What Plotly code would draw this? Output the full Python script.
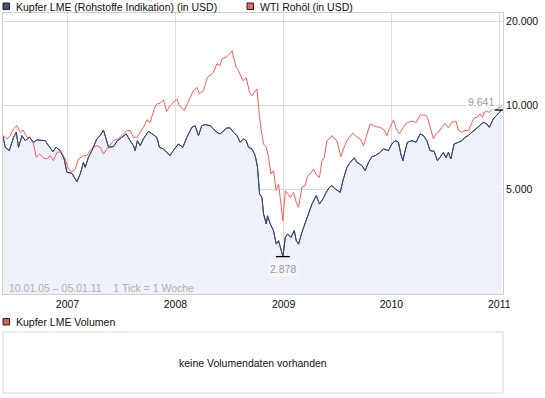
import numpy as np
import pandas as pd
import plotly.graph_objects as go

# ---------------- data (fractional years, values in USD) ----------------
copper_t = [2006.402, 2006.423, 2006.460, 2006.500, 2006.525, 2006.546, 2006.578, 2006.608, 2006.648, 2006.685,
            2006.717, 2006.794, 2006.824, 2006.865, 2006.895, 2006.932, 2006.969, 2006.994, 2007.041, 2007.062,
            2007.087, 2007.118, 2007.148, 2007.164, 2007.194, 2007.226, 2007.272, 2007.303, 2007.333, 2007.358,
            2007.380, 2007.426, 2007.457, 2007.504, 2007.544, 2007.581, 2007.611, 2007.627, 2007.648, 2007.673,
            2007.704, 2007.750, 2007.796, 2007.828, 2007.852, 2007.889, 2007.920, 2007.951, 2007.981, 2008.028,
            2008.069, 2008.106, 2008.152, 2008.182, 2008.213, 2008.244, 2008.275, 2008.321, 2008.352, 2008.383,
            2008.414, 2008.444, 2008.476, 2008.506, 2008.537, 2008.569, 2008.599, 2008.630, 2008.655, 2008.676,
            2008.707, 2008.738, 2008.759, 2008.778, 2008.800, 2008.815, 2008.840, 2008.852, 2008.877, 2008.907,
            2008.932, 2008.954, 2008.976, 2008.994, 2009.016, 2009.037, 2009.069, 2009.099, 2009.118, 2009.139,
            2009.170, 2009.201, 2009.231, 2009.263, 2009.303, 2009.333, 2009.365, 2009.395, 2009.426, 2009.448,
            2009.479, 2009.525, 2009.550, 2009.587, 2009.618, 2009.655, 2009.680, 2009.726, 2009.756, 2009.787,
            2009.819, 2009.849, 2009.895, 2009.926, 2009.972, 2010.004, 2010.034, 2010.065, 2010.087, 2010.106,
            2010.127, 2010.148, 2010.189, 2010.229, 2010.266, 2010.296, 2010.328, 2010.358, 2010.395, 2010.426,
            2010.451, 2010.481, 2010.506, 2010.528, 2010.550, 2010.581, 2010.620, 2010.652, 2010.682, 2010.713,
            2010.744, 2010.784, 2010.821, 2010.852, 2010.883, 2010.907, 2010.944, 2010.969, 2011.000, 2011.022]
copper_v = [7760, 7090, 6900, 7700, 8020, 7090, 7810, 7490, 7700, 7390,
            7535, 7490, 7190, 6840, 7090, 6900, 6440, 5770, 5720, 5530,
            5340, 5690, 6260, 6010, 6530, 6900, 7600, 7810, 8180, 7600,
            7090, 7130, 7450, 7700, 7920, 7490, 7190, 6900, 7490, 7190,
            7600, 8090, 7870, 7700, 7090, 7000, 6800, 6620, 6900, 7290,
            7090, 7700, 8360, 8480, 7810, 8480, 8550, 8480, 8250, 8020,
            7920, 8140, 8320, 8320, 8020, 7810, 7390, 7600, 7490, 7090,
            7000, 6620, 6010, 4830, 4690, 4090, 3770, 4030, 3770, 3565,
            3190, 3280, 3020, 2878, 3370, 3470, 3370, 3565, 3280, 3190,
            3515, 3820, 4090, 4440, 4760, 4440, 4630, 4890, 5100, 5170,
            5030, 4890, 5385, 6010, 6260, 6500, 6260, 6100, 5850, 6260,
            6565, 6620, 6800, 7000, 6900, 7290, 7490, 7390, 6710, 6350,
            6900, 7390, 7490, 7390, 7920, 7810, 7490, 6900, 6860, 6350,
            6530, 6800, 6500, 6800, 6440, 7290, 7390, 7490, 7700, 7810,
            8020, 8250, 8480, 8710, 8600, 8360, 8960, 9210, 9460, 9641]

oil_t = [2006.402, 2006.439, 2006.469, 2006.500, 2006.531, 2006.562, 2006.587, 2006.624, 2006.655, 2006.685,
         2006.710, 2006.741, 2006.778, 2006.809, 2006.840, 2006.870, 2006.902, 2006.939, 2006.979, 2007.009,
         2007.041, 2007.071, 2007.102, 2007.148, 2007.180, 2007.210, 2007.241, 2007.272, 2007.303, 2007.333,
         2007.365, 2007.426, 2007.472, 2007.519, 2007.550, 2007.581, 2007.611, 2007.643, 2007.673, 2007.704,
         2007.735, 2007.766, 2007.803, 2007.828, 2007.859, 2007.889, 2007.920, 2007.951, 2008.013, 2008.037,
         2008.081, 2008.120, 2008.167, 2008.198, 2008.222, 2008.259, 2008.296, 2008.337, 2008.352, 2008.383,
         2008.414, 2008.430, 2008.476, 2008.506, 2008.525, 2008.537, 2008.562, 2008.583, 2008.606, 2008.624,
         2008.655, 2008.685, 2008.707, 2008.738, 2008.754, 2008.769, 2008.791, 2008.815, 2008.840, 2008.861,
         2008.883, 2008.907, 2008.932, 2008.954, 2008.969, 2008.994, 2009.016, 2009.037, 2009.062, 2009.093,
         2009.118, 2009.139, 2009.170, 2009.201, 2009.222, 2009.247, 2009.278, 2009.309, 2009.333, 2009.356,
         2009.377, 2009.402, 2009.426, 2009.448, 2009.469, 2009.494, 2009.509, 2009.531, 2009.555, 2009.587,
         2009.611, 2009.643, 2009.680, 2009.710, 2009.741, 2009.772, 2009.803, 2009.849, 2009.895, 2009.932,
         2009.957, 2009.988, 2010.019, 2010.044, 2010.074, 2010.111, 2010.148, 2010.189, 2010.229, 2010.266,
         2010.312, 2010.333, 2010.358, 2010.389, 2010.414, 2010.435, 2010.467, 2010.497, 2010.528, 2010.559,
         2010.599, 2010.620, 2010.652, 2010.682, 2010.713, 2010.744, 2010.766, 2010.796, 2010.821, 2010.846,
         2010.858, 2010.883, 2010.907, 2010.939, 2010.969, 2011.000, 2011.022]
oil_v = [7810, 7600, 7810, 8250, 8480, 8020, 8180, 7700, 7700, 7290,
         6530, 6710, 6500, 6440, 6620, 6350, 6800, 6840, 6440, 5930,
         5770, 5930, 6440, 6620, 6620, 6900, 7090, 7190, 7090, 6710,
         7000, 7490, 7600, 7920, 8140, 8140, 7700, 7700, 8020, 8360,
         8890, 8710, 9730, 10140, 10190, 10480, 9540, 10000, 10570, 10000,
         9600, 10280, 11320, 11630, 11010, 11320, 12630, 12990, 13160, 14110,
         13910, 14700, 14980, 15400, 15740, 14900, 13720, 13350, 12630, 12290,
         12570, 11160, 10860, 11320, 11480, 9860, 8250, 7290, 7090, 6530,
         5690, 5850, 4960, 5240, 4690, 3870, 4960, 4830, 4690, 4890,
         4500, 4320, 5100, 5170, 5610, 5690, 5930, 5610, 5530, 6350,
         6530, 7490, 7600, 7810, 7600, 7490, 7090, 6565, 7000, 7490,
         7700, 7960, 7700, 7600, 7190, 7810, 8600, 8410, 8360, 8180,
         7810, 8360, 8890, 8250, 7920, 8360, 8710, 8790, 8710, 9260,
         9260, 9080, 8360, 7600, 7920, 8020, 8360, 8640, 8320, 8710,
         8790, 8180, 8020, 8140, 8140, 8600, 9035, 9080, 9340, 9080,
         9460, 9540, 9460, 9730, 9650, 9860, 9920]

year_ticks = [2007, 2008, 2009, 2010, 2011]
y_ticks = [5000, 10000, 20000]
x_span = [2006.402, 2011.034]
y_span = [2114, 21470]

legend_main = "Kupfer LME (Rohstoffe Indikation) (in USD)"
legend_oil = "WTI Rohöl (in USD)"
legend_vol = "Kupfer LME Volumen"
range_text = "10.01.05 \u2013 05.01.11\u00a0\u00a0\u00a0 1 Tick = 1 Woche"
no_volume = "keine Volumendaten vorhanden"


def to_dates(ts):
    out = []
    for t in ts:
        y = int(np.floor(t))
        frac = t - y
        s = pd.Timestamp(year=y, month=1, day=1)
        e = pd.Timestamp(year=y + 1, month=1, day=1)
        out.append(s + (e - s) * frac)
    return out


def de(v):
    return f"{v:,.0f}".replace(",", ".")


cd = to_dates(copper_t)
od = to_dates(oil_t)

FONT = "Liberation Sans, Arial, sans-serif"
W, H = 545, 398
ML, MR, MT, MB = 3, 42, 13, 4
PW, PH = W - ML - MR, H - MT - MB


def px(x):
    return (x - ML) / PW


def py(y):
    return (H - MB - y) / PH


BLUE = "#36486f"
RED = "#ff5c5c"
FILL = "#eef1fa"

fig = go.Figure()
fig.add_trace(go.Scatter(x=cd, y=copper_v, mode="lines", line=dict(color=BLUE, width=1),
                         fill="tozeroy", fillcolor=FILL, hoverinfo="skip", showlegend=False))
fig.add_trace(go.Scatter(x=od, y=oil_v, mode="lines", line=dict(color=RED, width=1),
                         hoverinfo="skip", showlegend=False))
fig.add_trace(go.Scatter(x=cd, y=copper_v, mode="lines", line=dict(color=BLUE, width=1),
                         hoverinfo="skip", showlegend=False))

imin = int(np.argmin(copper_v))
ilast = len(copper_v) - 1
fig.add_trace(go.Scatter(x=[cd[imin], cd[ilast]], y=[copper_v[imin], copper_v[ilast]], mode="markers",
                         marker=dict(symbol="line-ew", size=10, line=dict(color="black", width=1.3)),
                         hoverinfo="skip", showlegend=False))

annotations = [
    dict(x=cd[imin], y=np.log10(copper_v[imin]), xref="x", yref="y", text=de(copper_v[imin]),
         showarrow=False, yshift=-12, font=dict(family=FONT, size=10.5, color="#9a9a9a"),
         bgcolor="#f6f6f8", borderpad=1),
    dict(x=cd[ilast], y=np.log10(copper_v[ilast]), xref="x", yref="y", text=de(copper_v[ilast]),
         showarrow=False, yshift=8, xshift=-6, xanchor="right", font=dict(family=FONT, size=10.5, color="#9a9a9a"),
         bgcolor="rgba(255,255,255,0.9)", borderpad=1),
    dict(x=px(14), y=py(6.5), xref="paper", yref="paper", text=legend_main, showarrow=False,
         xanchor="left", yanchor="middle", font=dict(family=FONT, size=10.5, color="#111")),
    dict(x=px(258), y=py(6.5), xref="paper", yref="paper", text=legend_oil, showarrow=False,
         xanchor="left", yanchor="middle", font=dict(family=FONT, size=10.5, color="#111")),
    dict(x=px(14), y=py(321.5), xref="paper", yref="paper", text=legend_vol, showarrow=False,
         xanchor="left", yanchor="middle", font=dict(family=FONT, size=10.5, color="#111")),
    dict(x=px(7), y=py(288), xref="paper", yref="paper", text=range_text, showarrow=False,
         xanchor="left", yanchor="middle", font=dict(family=FONT, size=10.5, color="#b0b0b0")),
    dict(x=px(253), y=py(362.5), xref="paper", yref="paper", text=no_volume, showarrow=False,
         xanchor="center", yanchor="middle", font=dict(family=FONT, size=10.5, color="#111")),
]

shapes = [
    dict(type="rect", xref="paper", yref="paper", x0=px(3), x1=px(9.5), y0=py(9.5), y1=py(3),
         fillcolor="#3d5286", line=dict(color="#222", width=1)),
    dict(type="rect", xref="paper", yref="paper", x0=px(247), x1=px(253.5), y0=py(9.5), y1=py(3),
         fillcolor="#f26565", line=dict(color="#222", width=1)),
    dict(type="rect", xref="paper", yref="paper", x0=px(3), x1=px(9.5), y0=py(325), y1=py(318.5),
         fillcolor="#d4615c", line=dict(color="#222", width=1)),
    dict(type="rect", xref="paper", yref="paper", x0=px(3), x1=px(503), y0=py(393), y1=py(332),
         fillcolor="white", line=dict(color="#d8d8d8", width=1)),
]

fig.update_layout(
    width=W, height=H,
    margin=dict(l=ML, r=MR, t=MT, b=MB, pad=0),
    paper_bgcolor="white", plot_bgcolor="white",
    showlegend=False,
    hovermode=False,
    annotations=annotations,
    shapes=shapes,
    xaxis=dict(
        type="date",
        range=to_dates(x_span),
        tickvals=[pd.Timestamp(year=y, month=1, day=1) for y in year_ticks],
        ticktext=[str(y) for y in year_ticks],
        showgrid=True, gridcolor="#dcdcdc", gridwidth=1,
        showline=True, mirror=True, linecolor="#d0d0d0", linewidth=1,
        ticks="", zeroline=False,
        tickfont=dict(family=FONT, size=10.5, color="#111"),
        domain=[0, 1],
    ),
    yaxis=dict(
        type="log",
        range=[np.log10(y_span[0]), np.log10(y_span[1])],
        tickvals=y_ticks,
        ticktext=[de(v) for v in y_ticks],
        side="right",
        showgrid=True, gridcolor="#dcdcdc", gridwidth=1,
        showline=True, mirror=True, linecolor="#d0d0d0", linewidth=1,
        ticks="", zeroline=False,
        tickfont=dict(family=FONT, size=10.5, color="#111"),
        domain=[py(294), py(13)],
    ),
)

fig.write_html("out.html", config={"displayModeBar": False, "staticPlot": True},
               post_script="document.body.style.margin='0';document.body.style.overflow='hidden';")
